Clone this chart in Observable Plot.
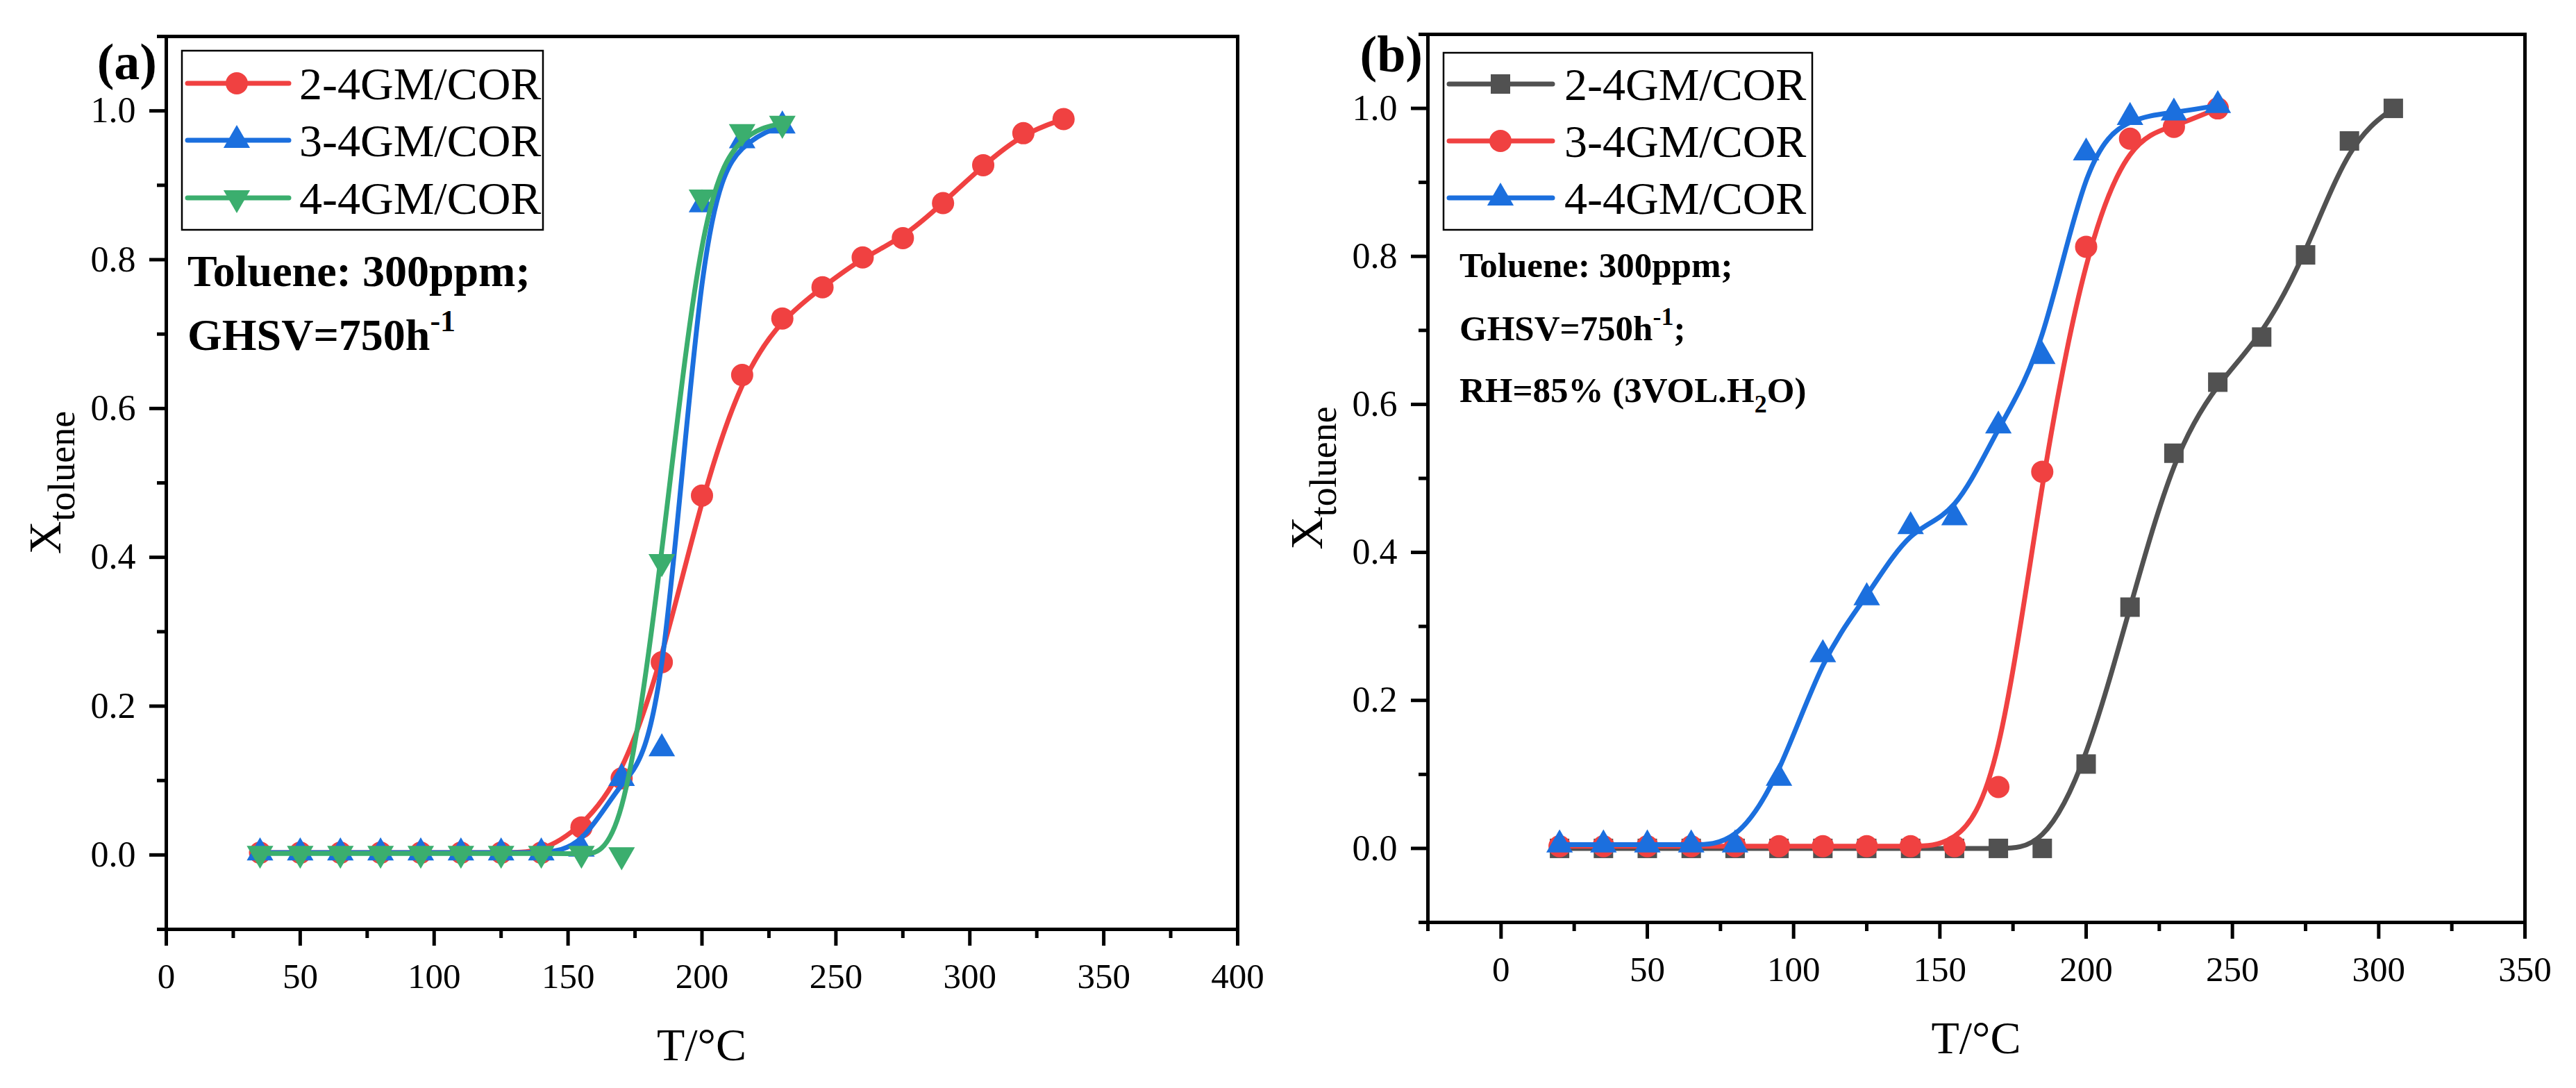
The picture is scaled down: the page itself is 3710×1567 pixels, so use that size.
<!DOCTYPE html>
<html><head><meta charset="utf-8">
<script src="https://cdn.jsdelivr.net/npm/d3@7"></script>
<script src="https://cdn.jsdelivr.net/npm/@observablehq/plot@0.6"></script>
<style>
html,body{margin:0;padding:0;background:#fff;}
#wrap{display:flex;flex-direction:row;width:3710px;height:1567px;background:#fff;}
svg{display:block;}
svg text{font-family:'Liberation Serif','Times New Roman',serif;}
</style></head><body><div id="wrap"></div>
<script>
// ---------- data ----------
const seriesNames = ["2-4GM/COR", "3-4GM/COR", "4-4GM/COR"];

// panel (a)
const a_T_long  = [35,50,65,80,95,110,125,140,155,170,185,200,215,230,245,260,275,290,305,320,335];
const a_T_short = [35,50,65,80,95,110,125,140,155,170,185,200,215,230];
const a_red   = [0.003,0.003,0.003,0.003,0.003,0.003,0.003,0.003,0.037,0.103,0.259,0.483,0.645,0.721,0.763,0.803,0.829,0.876,0.927,0.970,0.989];
const a_blue  = [0.003,0.003,0.003,0.003,0.003,0.003,0.003,0.003,0.008,0.103,0.143,0.874,0.960,0.980];
const a_green = [0.002,0.002,0.002,0.002,0.002,0.002,0.002,0.002,0.002,0.000,0.394,0.884,0.972,0.983];

// panel (b)
const b_T_long  = [20,35,50,65,80,95,110,125,140,155,170,185,200,215,230,245,260,275,290,305];
const b_T_short = [20,35,50,65,80,95,110,125,140,155,170,185,200,215,230,245];
const b_gray = [0,0,0,0,0,0,0,0,0,0,0,0,0.114,0.326,0.534,0.630,0.691,0.802,0.956,1.000];
const b_red  = [0.003,0.003,0.003,0.003,0.003,0.003,0.003,0.003,0.003,0.003,0.083,0.509,0.813,0.959,0.975,1.000];
const b_blue = [0.005,0.005,0.005,0.005,0.005,0.095,0.262,0.339,0.435,0.447,0.571,0.665,0.940,0.988,0.994,1.004];

// ticks
const a_xMajor = [0,50,100,150,200,250,300,350,400];
const a_xMinor = [25,75,125,175,225,275,325,375];
const b_xMajor = [0,50,100,150,200,250,300,350];
const b_xMinor = [-25,25,75,125,175,225,275,325];
const yMajor = [0,0.2,0.4,0.6,0.8,1.0];
const yMinor = [-0.1,0.1,0.3,0.5,0.7,0.9,1.1];

// colours
const RED = "#F04141", BLUE = "#1B6FDE", GREEN = "#3BAE6E", GRAY = "#515151";
const FONT = "Liberation Serif";

function toRows(xs, ys){ return xs.map((x,i)=>({x, y: ys[i]})); }

function makePanel(cfg){
  const marks = [];
  cfg.series.forEach(s => {
    const rows = toRows(s.x, s.y);
    marks.push(Plot.line(rows, {x:"x", y:"y", stroke:s.color, strokeWidth:7, curve:"basis"}));
    marks.push(Plot.dot(rows, {x:"x", y:"y", r:s.r, fill:s.color, stroke:"none", symbol:s.symbol, rotate:s.rotate}));
  });
  marks.push(Plot.frame({stroke:"black", strokeWidth:5}));
  marks.push(Plot.axisX({ticks:cfg.xMajor, tickSize:24, tickPadding:24, strokeWidth:5, fontSize:51, fontFamily:FONT, label:null, tickFormat:d=>String(d)}));
  marks.push(Plot.axisX({ticks:cfg.xMinor, tickSize:13, strokeWidth:5, label:null, tickFormat:()=>""}));
  marks.push(Plot.axisY({ticks:yMajor, tickSize:24, tickPadding:20, strokeWidth:5, fontSize:52, fontFamily:FONT, label:null, tickFormat:d3.format(".1f")}));
  marks.push(Plot.axisY({ticks:yMinor, tickSize:13, strokeWidth:5, label:null, tickFormat:()=>""}));

  const svgEl = Plot.plot({
    width:1855, height:1567,
    marginLeft:cfg.m[0], marginRight:cfg.m[1], marginTop:cfg.m[2], marginBottom:cfg.m[3],
    x:{domain:cfg.xDomain, axis:null},
    y:{domain:[-0.1,1.1], axis:null},
    style:{fontFamily:FONT, color:"black", background:"white", overflow:"visible"},
    marks
  });

  const svg = d3.select(svgEl);
  const L = cfg.m[0], R = 1855 - cfg.m[1], T = cfg.m[2], B = 1567 - cfg.m[3];
  const g = svg.append("g").attr("font-family", FONT).attr("fill", "black").attr("text-anchor","start");

  // panel tag
  g.append("text").attr("x", cfg.tag.x).attr("y", cfg.tag.y).attr("text-anchor","end")
    .attr("font-size", 74).attr("font-weight","bold").text(cfg.tag.text);

  // x label
  g.append("text").attr("x", (L+R)/2).attr("y", B + 189).attr("text-anchor","middle")
    .attr("font-size", 66).text("T/°C");

  // y label
  const yl = g.append("text").attr("transform", `translate(${L-152},${(T+B)/2}) rotate(-90)`)
    .attr("text-anchor","middle");
  yl.append("tspan").attr("font-size", 66).text("X");
  yl.append("tspan").attr("font-size", 54).attr("dy", 20).text("toluene");

  // legend
  const lg = cfg.legend;
  g.append("rect").attr("x", lg.x0).attr("y", lg.y0).attr("width", lg.x1-lg.x0).attr("height", lg.y1-lg.y0)
    .attr("fill","white").attr("stroke","black").attr("stroke-width",2.5);
  cfg.series.forEach((s,i) => {
    const cy = lg.rows[i];
    g.append("line").attr("x1", lg.l0).attr("x2", lg.l1).attr("y1", cy).attr("y2", cy)
      .attr("stroke", s.color).attr("stroke-width", 7).attr("stroke-linecap","round");
    const symType = s.symbol === "circle" ? d3.symbolCircle : s.symbol === "square" ? d3.symbolSquare : d3.symbolTriangle;
    g.append("path").attr("d", d3.symbol(symType, Math.PI*s.r*s.r)())
      .attr("transform", `translate(${lg.mx},${cy}) rotate(${s.rotate||0})`).attr("fill", s.color);
    g.append("text").attr("x", lg.tx).attr("y", cy + 23).attr("text-anchor","start").attr("font-size", 66).text(seriesNames[i]);
  });

  // annotations
  cfg.notes(g);
  return svgEl;
}

const wrap = document.getElementById("wrap");

wrap.appendChild(makePanel({
  m:[239, 73, 52, 229],
  xDomain:[0,400], xMajor:a_xMajor, xMinor:a_xMinor,
  series:[
    {x:a_T_long,  y:a_red,   color:RED,   symbol:"circle",   r:16,   rotate:0},
    {x:a_T_short, y:a_blue,  color:BLUE,  symbol:"triangle", r:14.2, rotate:0},
    {x:a_T_short, y:a_green, color:GREEN, symbol:"triangle", r:14.2, rotate:180}
  ],
  tag:{x:226, y:114, text:"(a)"},
  legend:{x0:262, x1:782, y0:73, y1:331, rows:[120,202,285], l0:270, l1:416, mx:341, tx:431},
  notes:(g)=>{
    g.append("text").attr("x",270).attr("y",412).attr("font-size",64).attr("font-weight","bold").text("Toluene: 300ppm;");
    const t = g.append("text").attr("x",270).attr("y",504).attr("font-size",64).attr("font-weight","bold");
    t.append("tspan").text("GHSV=750h");
    t.append("tspan").attr("font-size",44).attr("dy",-27).text("-1");
  }
}));

wrap.appendChild(makePanel({
  m:[201, 74, 49, 239],
  xDomain:[-25,350], xMajor:b_xMajor, xMinor:b_xMinor,
  series:[
    {x:b_T_long,  y:b_gray, color:GRAY, symbol:"square",   r:15.8, rotate:0},
    {x:b_T_short, y:b_red,  color:RED,  symbol:"circle",   r:16,   rotate:0},
    {x:b_T_short, y:b_blue, color:BLUE, symbol:"triangle", r:14.2, rotate:0}
  ],
  tag:{x:194, y:103, text:"(b)"},
  legend:{x0:224, x1:755, y0:76, y1:331, rows:[121,203,285], l0:232, l1:381, mx:306, tx:398},
  notes:(g)=>{
    g.append("text").attr("x",247).attr("y",399).attr("font-size",51).attr("font-weight","bold").text("Toluene: 300ppm;");
    const t = g.append("text").attr("x",247).attr("y",490).attr("font-size",51).attr("font-weight","bold");
    t.append("tspan").text("GHSV=750h");
    t.append("tspan").attr("font-size",36).attr("dy",-22).text("-1");
    t.append("tspan").attr("dy",22).text(";");
    const r = g.append("text").attr("x",247).attr("y",579).attr("font-size",51).attr("font-weight","bold");
    r.append("tspan").text("RH=85% (3VOL.H");
    r.append("tspan").attr("font-size",36).attr("dy",15).text("2");
    r.append("tspan").attr("dy",-15).text("O)");
  }
}));
</script></body></html>
